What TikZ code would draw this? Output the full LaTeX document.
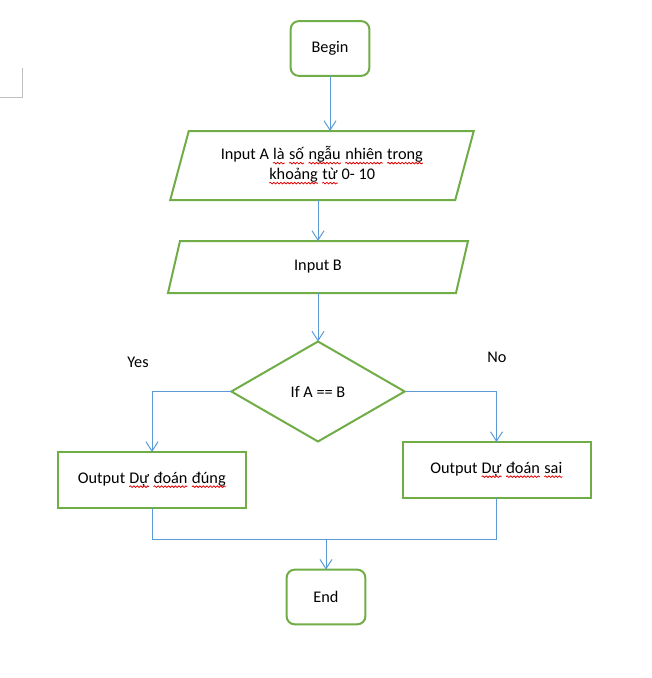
\documentclass[tikz,border=0pt]{standalone}
\usepackage{fontspec}
\setmainfont{Carlito}
\usetikzlibrary{shapes.geometric,arrows.meta,decorations.pathmorphing}
\definecolor{boxgreen}{HTML}{70AD47}
\definecolor{linkblue}{HTML}{5B9BD5}
\definecolor{spellred}{HTML}{E00000}
\tikzset{
  wordbox/.style={shape=rectangle, draw=none, fill=none, minimum width=0pt, minimum height=0pt,
    inner sep=0pt, outer sep=0pt, rounded corners=0pt, anchor=base},
  wavyline/.style={spellred, line width=0.6pt, rounded corners=0pt, decorate,
    decoration={snake, amplitude=0.6pt, segment length=2.6pt}}
}
\newcommand\wv[1]{\tikz[baseline=(w.base)]{\node[wordbox](w){#1};\draw[wavyline]([yshift=-2.4pt]w.base west)--([yshift=-2.4pt]w.base east);}}
\tikzset{
  txt/.style={font=\fontsize{12.2pt}{15pt}\selectfont, text=black, align=center, inner sep=0pt, outer sep=0pt},
  termbox/.style={txt, draw=boxgreen, line width=1.5pt, rounded corners=6pt, minimum width=59pt, minimum height=41pt},
  procbox/.style={txt, draw=boxgreen, line width=1.5pt, minimum width=141pt, minimum height=42pt},
  iobox/.style={txt, minimum height=#1},
  decbox/.style={txt, draw=boxgreen, line width=1.5pt, diamond, minimum width=130pt, minimum height=75pt},
  shapeline/.style={draw=boxgreen, line width=1.5pt, line join=miter},
  link/.style={draw=linkblue, line width=0.75pt},
  conn/.style={link, -{Straight Barb[length=7pt,width=9pt]}},
  lbl/.style={font=\fontsize{12.2pt}{14pt}\selectfont, inner sep=0pt}
}
\begin{document}
\begin{tikzpicture}[x=0.75pt,y=-0.75pt]
\useasboundingbox (0,0) rectangle (652,678);
% page margin mark
\draw[black!25, line width=0.75pt] (22,68) -- (22,97) -- (0,97);

\node[termbox] (begin) at (330,48.5) {Begin};

\node[iobox=51.75pt, minimum width=213.75pt] (inA) at (322,165.5)
  {Input A \wv{là} \wv{số} \wv{ngẫu} \wv{nhiên} \wv{trong}\\ \wv{khoảng} \wv{từ} 0- 10};
\draw[shapeline] ([xshift=6.94pt]inA.north west) -- ([xshift=6.94pt]inA.north east)
  -- ([xshift=-6.94pt]inA.south east) -- ([xshift=-6.94pt]inA.south west) -- cycle;

\node[iobox=39pt, minimum width=216pt] (inB) at (318,267) {Input B};
\draw[shapeline] ([xshift=4.5pt]inB.north west) -- ([xshift=4.5pt]inB.north east)
  -- ([xshift=-4.5pt]inB.south east) -- ([xshift=-4.5pt]inB.south west) -- cycle;

\node[decbox] (dec) at (318,391.5) {If A == B};

\node[procbox] (yesbox) at (152,480) {Output \wv{Dự} \wv{đoán} \wv{đúng}};
\node[procbox] (nobox) at (496.5,470) {Output \wv{Dự} \wv{đoán} \wv{sai}};

\node[termbox] (endn) at (326,597) {End};

\node[lbl] (yes) at (138,362) {Yes};
\node[lbl] (no) at (497,357) {No};

\coordinate (merge) at (326,539);

\draw[conn] (begin.south) -- (begin.south |- inA.north);
\draw[conn] (inA.south -| inB.north) -- (inB.north);
\draw[conn] (inB.south) -- (dec.north);
\draw[conn] (dec.west) -| (yesbox.north);
\draw[conn] (dec.east) -| (nobox.north);
\draw[link] (yesbox.south) |- (merge);
\draw[link] (nobox.south) |- (merge);
\draw[conn] (merge) -- (endn.north);
\end{tikzpicture}
\end{document}
